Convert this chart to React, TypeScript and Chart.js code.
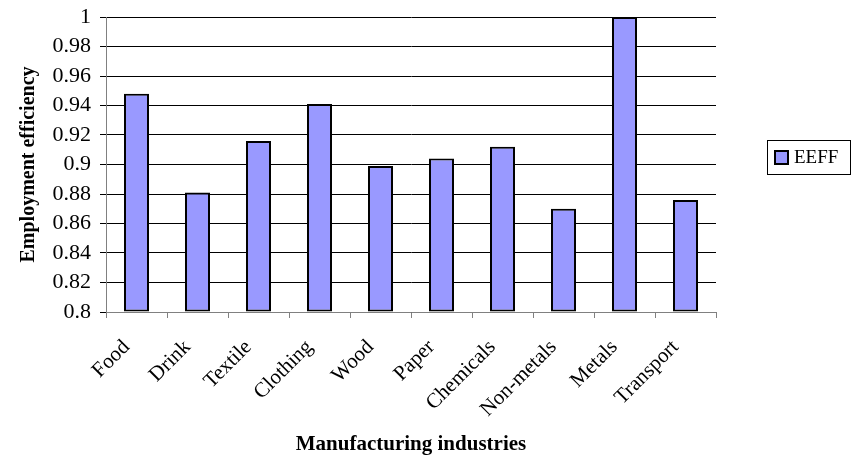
import React, { useEffect, useRef } from "react";
import { Chart, registerables } from "chart.js";

Chart.register(...registerables);

const CATEGORIES = ["Food", "Drink", "Textile", "Clothing", "Wood", "Paper", "Chemicals", "Non-metals", "Metals", "Transport"];
const EEFF = [0.948, 0.881, 0.916, 0.941, 0.899, 0.904, 0.912, 0.87, 1.0, 0.876];
const SERIES_LABEL = "EEFF";
const Y_MIN = 0.8;
const Y_MAX = 1.0;
const Y_STEP = 0.02;
const X_TITLE = "Manufacturing industries";
const Y_TITLE = "Employment efficiency";

const FONT = "'Liberation Serif', 'Times New Roman', serif";

const legendBoxPlugin = {
  id: "legendBox",
  afterDraw(chart: any) {
    const { ctx, chartArea } = chart;
    const ds = chart.data.datasets[0];
    const x = chartArea.right + 51;
    const y = chartArea.top + 123;
    const w = 83;
    const h = 34;
    ctx.save();
    ctx.strokeStyle = "#000";
    ctx.lineWidth = 1;
    ctx.strokeRect(x + 0.5, y + 0.5, w, h);
    ctx.fillStyle = ds.backgroundColor;
    ctx.fillRect(x + 8, y + 11, 13, 13);
    ctx.lineWidth = 2;
    ctx.strokeRect(x + 8, y + 11, 13, 13);
    ctx.fillStyle = "#000";
    ctx.font = `19px ${FONT}`;
    ctx.textBaseline = "middle";
    ctx.textAlign = "left";
    ctx.fillText(ds.label, x + 27, y + h / 2 + 1);
    ctx.restore();
  },
};

export default function App() {
  const ref = useRef<HTMLCanvasElement | null>(null);
  useEffect(() => {
    document.body.style.margin = "0";
    document.body.style.background = "#fff";
    const canvas = ref.current!;
    const chart = new Chart(canvas, {
      type: "bar",
      data: {
        labels: CATEGORIES,
        datasets: [
          {
            label: SERIES_LABEL,
            data: EEFF,
            base: Y_MIN,
            backgroundColor: "#9999FF",
            borderColor: "#000000",
            borderWidth: 2,
            borderSkipped: false,
            barPercentage: 0.41,
            categoryPercentage: 1,
          } as any,
        ],
      },
      options: {
        responsive: false,
        animation: false,
        maintainAspectRatio: false,
        layout: { padding: { top: 17, right: 136, left: 0, bottom: 0 } },
        plugins: { legend: { display: false }, tooltip: { enabled: false } },
        scales: {
          x: {
            offset: true,
            grid: { display: true, drawOnChartArea: false, drawTicks: true, tickLength: 6, color: "#808080", offset: true },
            border: { color: "#808080", width: 1 },
            ticks: { color: "#000", font: { family: FONT, size: 21 }, minRotation: 45, maxRotation: 45, autoSkip: false, padding: 17, labelOffset: -10 },
            title: { display: true, text: X_TITLE, color: "#000", font: { family: FONT, size: 21, weight: "bold" }, padding: { top: 0, bottom: 2 } },
            afterFit: (s: any) => { s.height = 147; s.paddingLeft = 0; s.paddingRight = 0; },
          },
          y: {
            min: Y_MIN,
            max: Y_MAX,
            grid: { color: "#000", lineWidth: 1, tickLength: 6, drawTicks: true },
            border: { color: "#808080", width: 1 },
            ticks: {
              stepSize: Y_STEP,
              color: "#000",
              font: { family: FONT, size: 22 },
              padding: 9,
              callback: (v: any) => String(Number(Number(v).toFixed(2))),
            },
            title: { display: true, text: Y_TITLE, color: "#000", font: { family: FONT, size: 20, weight: "bold" }, padding: { top: 17, bottom: 0 } },
            afterFit: (s: any) => { s.width = 106; s.paddingTop = 0; s.paddingBottom = 0; },
          },
        },
      },
      plugins: [legendBoxPlugin],
    });
    return () => chart.destroy();
  }, []);
  return (
    <div style={{ width: 852, height: 459, background: "#fff" }}>
      <canvas ref={ref} width={852} height={459} style={{ display: "block" }} />
    </div>
  );
}
